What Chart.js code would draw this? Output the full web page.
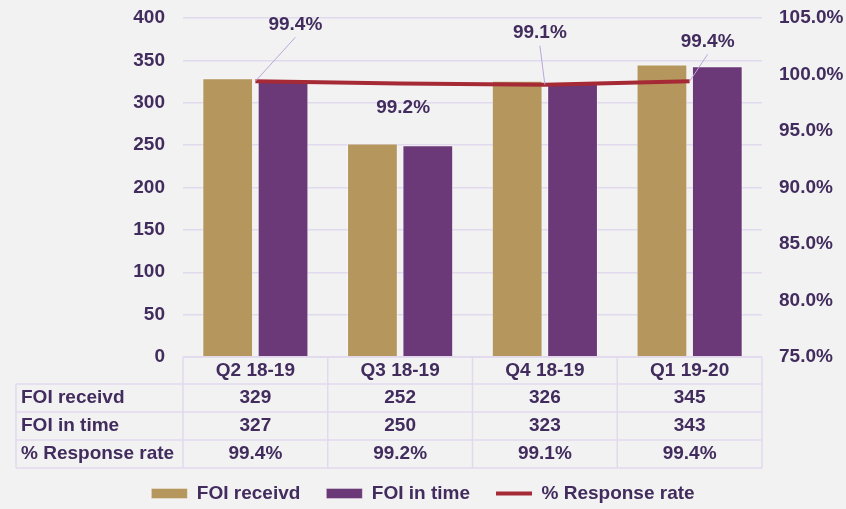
<!DOCTYPE html>
<html>
<head>
<meta charset="utf-8">
<script src="https://cdn.jsdelivr.net/npm/chart.js@4.4.0/dist/chart.umd.min.js"></script>
<style>
  html, body { margin: 0; padding: 0; background: #f2f2f2; }
  #wrap { width: 846px; height: 509px; }
</style>
</head>
<body>
<div id="wrap"><canvas id="myChart"></canvas></div>
<script>
const quarters = ['Q2 18-19', 'Q3 18-19', 'Q4 18-19', 'Q1 19-20'];
const foiReceived = [329, 252, 326, 345];
const foiInTime = [327, 250, 323, 343];
const responseRate = [99.4, 99.2, 99.1, 99.4];
const rowNames = ['FOI receivd', 'FOI in time', '% Response rate'];

// where the % labels sit relative to their point (dx, dy)
const rateLabelOffsets = [[40, -57], [3, 24], [-5, -52], [18, -40]];

const textColor = '#412c5d';
const gridColor = '#e1d9ee';
const gold = '#b5965d';
const purple = '#6b3977';
const red = '#a52a36';
const fontFamily = "'Liberation Sans', Arial, sans-serif";
const boldFont = 'bold 19px ' + fontFamily;

const fmtPct = v => v.toFixed(1) + '%';

const rateLabels = {
    id: 'rateLabels',
    afterDatasetsDraw(chart) {
        const ctx = chart.ctx;
        const meta = chart.getDatasetMeta(2);
        ctx.save();
        ctx.font = boldFont;
        ctx.fillStyle = textColor;
        ctx.textAlign = 'center';
        ctx.textBaseline = 'middle';
        meta.data.forEach((pt, i) => {
            const [dx, dy] = rateLabelOffsets[i];
            const lx = pt.x + dx, ly = pt.y + dy;
            if (dy < 0) {
                ctx.strokeStyle = '#b9a6da';
                ctx.lineWidth = 1;
                ctx.beginPath();
                ctx.moveTo(pt.x, pt.y);
                ctx.lineTo(lx, ly + 13);
                ctx.stroke();
            }
            ctx.fillText(fmtPct(responseRate[i]), lx, ly);
        });
        ctx.restore();
    }
};

const dataTable = {
    id: 'dataTable',
    afterDraw(chart) {
        const ctx = chart.ctx;
        const area = chart.chartArea;
        const xs = chart.scales.x;
        const colW = (area.right - area.left) / quarters.length;
        const top = area.bottom;
        const rowEdges = [top, top + 27, top + 55, top + 83, top + 111];
        const tableLeft = 16;
        ctx.save();
        ctx.strokeStyle = gridColor;
        ctx.lineWidth = 1.5;
        ctx.beginPath();
        ctx.moveTo(area.left, rowEdges[0]);
        ctx.lineTo(area.right, rowEdges[0]);
        for (let r = 1; r < rowEdges.length; r++) {
            ctx.moveTo(tableLeft, rowEdges[r]);
            ctx.lineTo(area.right, rowEdges[r]);
        }
        ctx.moveTo(tableLeft, rowEdges[1]);
        ctx.lineTo(tableLeft, rowEdges[4]);
        for (let i = 0; i <= quarters.length; i++) {
            const cx = area.left + i * colW;
            ctx.moveTo(cx, rowEdges[0]);
            ctx.lineTo(cx, rowEdges[4]);
        }
        ctx.stroke();

        ctx.font = boldFont;
        ctx.fillStyle = textColor;
        ctx.textBaseline = 'middle';
        const rows = [foiReceived, foiInTime, responseRate.map(fmtPct)];
        ctx.textAlign = 'center';
        quarters.forEach((q, i) => {
            const cx = xs.getPixelForValue(i);
            ctx.fillText(q, cx, (rowEdges[0] + rowEdges[1]) / 2);
            rows.forEach((row, r) => {
                ctx.fillText(String(row[i]), cx, (rowEdges[r + 1] + rowEdges[r + 2]) / 2);
            });
        });
        ctx.textAlign = 'left';
        rowNames.forEach((name, r) => {
            ctx.fillText(name, tableLeft + 5, (rowEdges[r + 1] + rowEdges[r + 2]) / 2);
        });
        ctx.restore();
    }
};

const data = {
    labels: quarters,
    datasets: [{
        label: 'FOI receivd',
        data: foiReceived,
        backgroundColor: gold,
        borderColor: 'rgba(255,255,255,0.35)',
        borderWidth: 1,
        pointStyle: 'rect',
        yAxisID: 'y',
        barPercentage: 0.917,
        categoryPercentage: 0.765
    }, {
        label: 'FOI in time',
        data: foiInTime,
        backgroundColor: purple,
        borderColor: 'rgba(255,255,255,0.35)',
        borderWidth: 1,
        pointStyle: 'rect',
        yAxisID: 'y',
        barPercentage: 0.917,
        categoryPercentage: 0.765
    }, {
        type: 'line',
        label: '% Response rate',
        data: responseRate,
        borderColor: red,
        backgroundColor: red,
        borderWidth: 4,
        pointRadius: 0,
        pointStyle: 'line',
        tension: 0,
        yAxisID: 'y1',
        order: -1
    }]
};

const config = {
    type: 'bar',
    data: data,
    options: {
        responsive: true,
        maintainAspectRatio: false,
        animation: false,
        layout: { padding: { top: 18, left: 0, right: 0, bottom: -4 } },
        plugins: {
            tooltip: { enabled: false },
            legend: {
                position: 'bottom',
                labels: {
                    usePointStyle: true,
                    pointStyleWidth: 36,
                    boxHeight: 10,
                    padding: 26,
                    color: textColor,
                    font: { family: fontFamily, size: 19, weight: 'bold' },
                    sort: (a, b) => a.datasetIndex - b.datasetIndex
                }
            }
        },
        scales: {
            x: {
                grid: { display: false },
                border: { display: false },
                ticks: { display: false },
                afterFit: s => { s.height = 101; }
            },
            y: {
                min: 0,
                max: 400,
                ticks: {
                    stepSize: 50,
                    padding: 0,
                    color: textColor,
                    font: { family: fontFamily, size: 19, weight: 'bold' }
                },
                grid: { color: gridColor, lineWidth: 1.5, drawTicks: true, tickLength: 18, tickColor: 'transparent' },
                border: { display: false },
                afterFit: s => { s.width = 183; }
            },
            y1: {
                position: 'right',
                min: 75,
                max: 105,
                ticks: {
                    stepSize: 5,
                    padding: 0,
                    color: textColor,
                    font: { family: fontFamily, size: 19, weight: 'bold' },
                    callback: v => fmtPct(v)
                },
                grid: { drawOnChartArea: false, drawTicks: true, tickLength: 17, tickColor: 'transparent' },
                border: { display: false },
                afterFit: s => { s.width = 84; }
            }
        }
    },
    plugins: [rateLabels, dataTable]
};

const myChart = new Chart(document.getElementById('myChart'), config);
</script>
</body>
</html>
